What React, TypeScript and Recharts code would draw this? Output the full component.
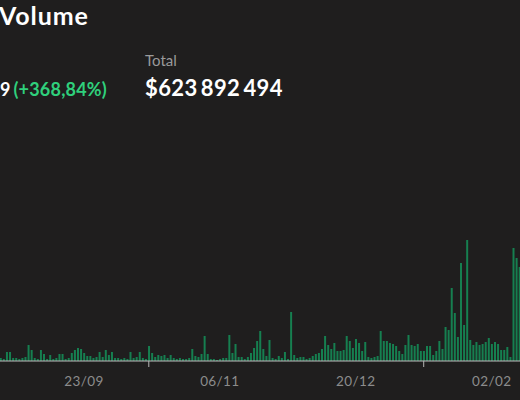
import React from "react";
import { BarChart, Bar, XAxis, YAxis } from "recharts";

// Daily volume (one value per day, 27/08 -> 11/02)
const START_DAY = Date.UTC(2021, 7, 27);

const volume: number[] = [
  3, 2, 9, 9, 3, 3, 2, 3, 4, 16,
  11, 3, 2, 11, 7, 2, 6, 2, 3, 7,
  7, 2, 3, 8, 11, 13, 12, 8, 5, 5,
  3, 4, 9, 4, 11, 6, 9, 3, 3, 2,
  3, 2, 9, 3, 4, 9, 3, 2, 15, 8,
  4, 6, 5, 6, 3, 6, 3, 2, 3, 2,
  2, 3, 12, 5, 4, 7, 25, 7, 2, 2,
  1, 2, 3, 3, 26, 8, 17, 4, 4, 2,
  4, 8, 13, 20, 30, 12, 5, 21, 3, 2,
  5, 3, 9, 2, 49, 6, 3, 4, 4, 2,
  3, 5, 7, 8, 12, 25, 16, 12, 18, 10,
  10, 11, 25, 20, 13, 22, 18, 10, 19, 4,
  3, 4, 5, 30, 20, 20, 18, 17, 15, 10,
  7, 16, 26, 16, 15, 17, 10, 10, 15, 15,
  6, 10, 20, 12, 34, 31, 73, 48, 24, 98,
  36, 121, 21, 16, 19, 16, 17, 19, 23, 17,
  19, 17, 11, 11, 14, 4, 113, 103, 94,
];

const labelTicks = ["23/09", "06/11", "20/12", "02/02"];
const markTicks = ["14/10", "11/01"];

function dayLabel(i: number) {
  const d = new Date(START_DAY + i * 86400000);
  const dd = String(d.getUTCDate()).padStart(2, "0");
  const mm = String(d.getUTCMonth() + 1).padStart(2, "0");
  return `${dd}/${mm}`;
}

const data = volume.map((v, i) => ({ date: dayLabel(i), volume: v }));

function DateTick(props: any) {
  const { x, y, payload } = props;
  const v = payload?.value;
  if (markTicks.includes(v)) {
    return <line x1={x} x2={x} y1={y - 2} y2={y + 4} stroke="#b5b5b5" strokeWidth={1} />;
  }
  return (
    <text x={x} y={y + 23} textAnchor="middle" fill="#8c8c8c" fontSize={13.5} fontFamily="Lato, sans-serif" letterSpacing={0.4}>
      {v}
    </text>
  );
}

export default function App() {
  return (
    <div
      style={{
        position: "absolute",
        top: 0,
        left: 0,
        width: 520,
        height: 400,
        overflow: "hidden",
        background: "#1f1e1e",
        fontFamily: "Lato, sans-serif",
      }}
    >
      <div style={{ position: "absolute", left: -1, top: 1, fontSize: 25, fontWeight: 700, color: "#ffffff", lineHeight: "28px", letterSpacing: 0.9 }}>
        Volume
      </div>

      <div style={{ position: "absolute", left: 0, top: 78, lineHeight: "22px", whiteSpace: "nowrap" }}>
        <span style={{ fontSize: 18, fontWeight: 700, color: "#ffffff" }}>9</span>
        <span style={{ fontSize: 18, fontWeight: 700, color: "#2fd07c", marginLeft: 3, letterSpacing: 0.2 }}>(+368,84%)</span>
      </div>

      <div style={{ position: "absolute", left: 145, top: 51, fontSize: 15, color: "#9a9a9a", lineHeight: "18px" }}>
        Total
      </div>
      <div style={{ position: "absolute", left: 145, top: 76, fontSize: 22, fontWeight: 700, color: "#ffffff", lineHeight: "24px", letterSpacing: 0.4, whiteSpace: "nowrap" }}>
        $623{"\u2009"}892{"\u2009"}494
      </div>

      <div style={{ position: "absolute", left: -1, top: 100 }}>
        <BarChart width={522} height={300} data={data} margin={{ top: 0, right: 0, bottom: 0, left: 0 }} barCategoryGap="25%">
          <XAxis
            dataKey="date"
            ticks={[...labelTicks, ...markTicks]}
            interval={0}
            tick={<DateTick />}
            tickLine={false}
            tickSize={0}
            height={39}
            axisLine={{ stroke: "#bdbdbd", strokeWidth: 1 }}
          />
          <YAxis hide domain={[0, 261]} />
          <Bar dataKey="volume" fill="#167f50" isAnimationActive={false} />
        </BarChart>
      </div>
    </div>
  );
}
